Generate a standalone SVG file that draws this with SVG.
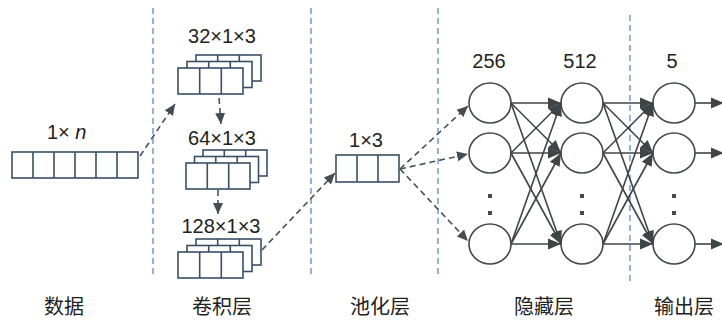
<svg xmlns="http://www.w3.org/2000/svg" width="722" height="321" viewBox="0 0 722 321">
<defs>
<style>
.t{font-family:"Liberation Sans",Arial,sans-serif;font-size:20px;fill:#222;}
.c{font-family:"Noto Sans CJK SC","Noto Sans",sans-serif;font-size:20px;fill:#222;}
.box{fill:#fff;stroke:#3a4f66;stroke-width:1.6;}
.cell{stroke:#3a4f66;stroke-width:1.6;}
.sep{stroke:#4a80c8;stroke-width:1.2;stroke-dasharray:6,4;fill:none;}
.da{stroke:#4a5258;stroke-width:1.6;stroke-dasharray:6,4;fill:none;marker-end:url(#ah);}
.nl{stroke:#3f4447;stroke-width:1.6;fill:none;marker-end:url(#ah2);}
.node{fill:#fff;stroke:#45494c;stroke-width:1.6;}
.dot{fill:#45494c;}
</style>
<marker id="ah" markerUnits="userSpaceOnUse" markerWidth="12" markerHeight="12" refX="11" refY="6" orient="auto">
<path d="M0,1 L11,6 L0,11 z" fill="#454c52"/>
</marker>
<marker id="ah2" markerUnits="userSpaceOnUse" markerWidth="14" markerHeight="13" refX="13" refY="6.5" orient="auto">
<path d="M0,1 L13,6.5 L0,12 z" fill="#3f4447"/>
</marker>
</defs>

<g id="separators">
<line class="sep" x1="153" y1="8" x2="153" y2="278"/>
<line class="sep" x1="311" y1="8" x2="311" y2="278"/>
<line class="sep" x1="438" y1="8" x2="438" y2="278"/>
<line class="sep" x1="630" y1="15" x2="630" y2="285"/>
</g>

<g id="input">
<text class="t" x="47" y="139" font-size="18">1× <tspan font-style="italic">n</tspan></text>
<rect class="box" x="12" y="152" width="126" height="26"/>
<path class="cell" d="M33,152V178M54,152V178M75,152V178M96,152V178M117,152V178"/>
</g>

<g id="conv1">
<text class="t" x="222" y="43" text-anchor="middle">32×1×3</text>
<rect class="box" x="196" y="55" width="65" height="26"/>
<path class="cell" d="M217.7,55V81M239.3,55V81"/>
<rect class="box" x="187" y="61.5" width="65" height="26"/>
<path class="cell" d="M208.7,61.5V87.5M230.3,61.5V87.5"/>
<rect class="box" x="178" y="68" width="65" height="26"/>
<path class="cell" d="M199.7,68V94M221.3,68V94"/>
</g>

<g id="conv2">
<text class="t" x="222" y="145" text-anchor="middle">64×1×3</text>
<rect class="box" x="203" y="150" width="64" height="26"/>
<path class="cell" d="M224.3,150V176M245.7,150V176"/>
<rect class="box" x="194.5" y="156.5" width="64" height="26"/>
<path class="cell" d="M215.8,156.5V182.5M237.2,156.5V182.5"/>
<rect class="box" x="186" y="163" width="64" height="26"/>
<path class="cell" d="M207.3,163V189M228.7,163V189"/>
</g>

<g id="conv3">
<text class="t" x="221" y="233" text-anchor="middle">128×1×3</text>
<rect class="box" x="196" y="239" width="65" height="26"/>
<path class="cell" d="M217.7,239V265M239.3,239V265"/>
<rect class="box" x="187" y="245.5" width="65" height="26"/>
<path class="cell" d="M208.7,245.5V271.5M230.3,245.5V271.5"/>
<rect class="box" x="178" y="252" width="65" height="26"/>
<path class="cell" d="M199.7,252V278M221.3,252V278"/>
</g>

<g id="pool">
<text class="t" x="366" y="147" text-anchor="middle">1×3</text>
<rect class="box" x="336" y="155" width="63" height="27"/>
<path class="cell" d="M357,155V182M378,155V182"/>
</g>

<g id="hidden1">
<text class="t" x="489" y="68" text-anchor="middle">256</text>
<ellipse class="node" cx="490" cy="103" rx="21" ry="20"/>
<ellipse class="node" cx="490" cy="153" rx="21" ry="20"/>
<ellipse class="node" cx="490" cy="244" rx="21" ry="20"/>
<rect class="dot" x="488" y="194" width="4" height="4"/>
<rect class="dot" x="488" y="211" width="4" height="4"/>
</g>

<g id="hidden2">
<text class="t" x="580" y="68" text-anchor="middle">512</text>
<ellipse class="node" cx="582" cy="103" rx="21" ry="20"/>
<ellipse class="node" cx="582" cy="153" rx="21" ry="20"/>
<ellipse class="node" cx="582" cy="244" rx="21" ry="20"/>
<rect class="dot" x="580" y="194" width="4" height="4"/>
<rect class="dot" x="580" y="211" width="4" height="4"/>
</g>

<g id="output">
<text class="t" x="672" y="68" text-anchor="middle">5</text>
<ellipse class="node" cx="674" cy="103" rx="21" ry="20"/>
<ellipse class="node" cx="674" cy="153" rx="21" ry="20"/>
<ellipse class="node" cx="674" cy="244" rx="21" ry="20"/>
<rect class="dot" x="672" y="194" width="4" height="4"/>
<rect class="dot" x="672" y="211" width="4" height="4"/>
</g>

<g id="connectors">
<line class="da" x1="140" y1="156" x2="175" y2="104"/>
<line class="da" x1="219" y1="98" x2="221" y2="124"/>
<line class="da" x1="218" y1="190" x2="218" y2="214"/>
<line class="da" x1="262" y1="250" x2="335" y2="173"/>
<line class="da" x1="400" y1="169" x2="468" y2="106"/>
<line class="da" x1="400" y1="169" x2="468" y2="154"/>
<line class="da" x1="400" y1="169" x2="468" y2="241"/>

<line class="nl" x1="511" y1="103" x2="561" y2="103"/>
<line class="nl" x1="511" y1="103" x2="561" y2="153"/>
<line class="nl" x1="511" y1="103" x2="561" y2="244"/>
<line class="nl" x1="511" y1="153" x2="561" y2="103"/>
<line class="nl" x1="511" y1="153" x2="561" y2="153"/>
<line class="nl" x1="511" y1="153" x2="561" y2="244"/>
<line class="nl" x1="511" y1="244" x2="561" y2="103"/>
<line class="nl" x1="511" y1="244" x2="561" y2="153"/>
<line class="nl" x1="511" y1="244" x2="561" y2="244"/>

<line class="nl" x1="603" y1="103" x2="653" y2="103"/>
<line class="nl" x1="603" y1="103" x2="653" y2="153"/>
<line class="nl" x1="603" y1="103" x2="653" y2="244"/>
<line class="nl" x1="603" y1="153" x2="653" y2="103"/>
<line class="nl" x1="603" y1="153" x2="653" y2="153"/>
<line class="nl" x1="603" y1="153" x2="653" y2="244"/>
<line class="nl" x1="603" y1="244" x2="653" y2="103"/>
<line class="nl" x1="603" y1="244" x2="653" y2="153"/>
<line class="nl" x1="603" y1="244" x2="653" y2="244"/>

<line class="nl" x1="695" y1="103" x2="724" y2="103"/>
<line class="nl" x1="695" y1="153" x2="724" y2="153"/>
<line class="nl" x1="695" y1="244" x2="724" y2="244"/>
</g>

<g id="labels">
<text class="c" x="64" y="314" text-anchor="middle">数据</text>
<text class="c" x="222" y="314" text-anchor="middle">卷积层</text>
<text class="c" x="380" y="314" text-anchor="middle">池化层</text>
<text class="c" x="544" y="314" text-anchor="middle">隐藏层</text>
<text class="c" x="684" y="314" text-anchor="middle">输出层</text>
</g>
</svg>
